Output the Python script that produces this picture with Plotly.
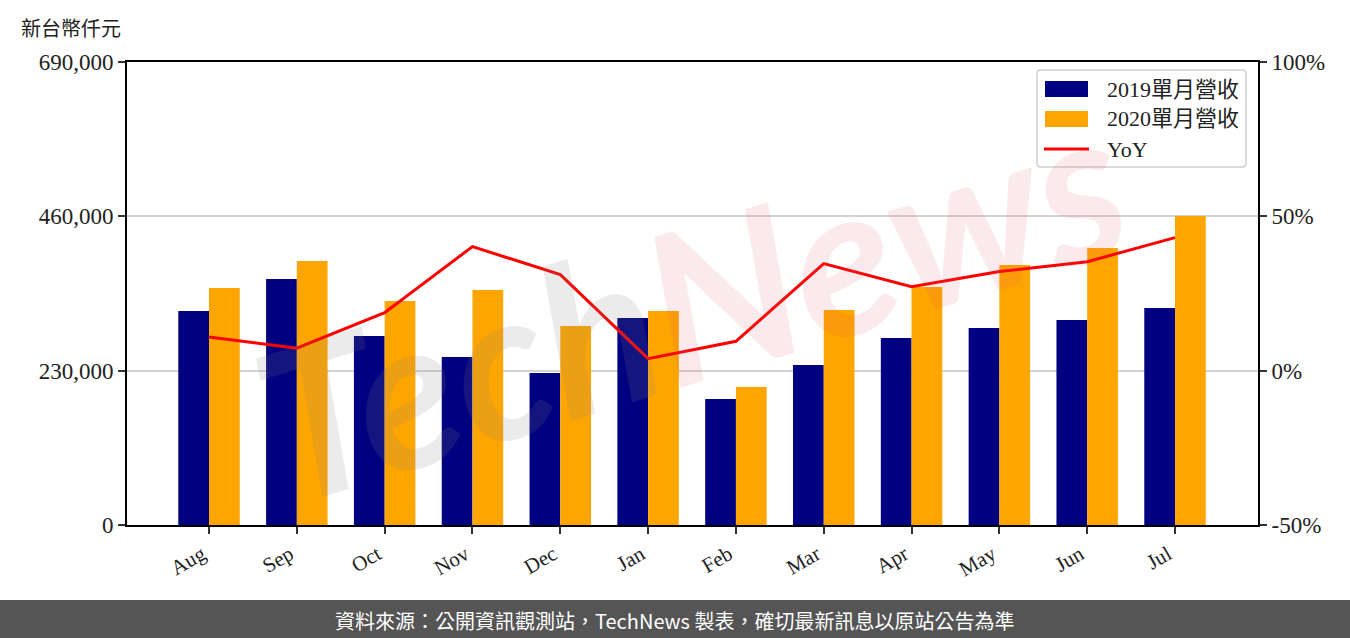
import plotly.graph_objects as go

months = ["Aug", "Sep", "Oct", "Nov", "Dec", "Jan", "Feb", "Mar", "Apr", "May", "Jun", "Jul"]
rev_2019 = [318900, 366600, 281700, 250400, 226500, 308500, 187800, 238400, 278700, 293600, 305500, 323400]
rev_2020 = [353200, 393400, 333800, 350200, 296600, 318900, 205700, 320400, 354700, 387500, 412800, 460500]
yoy_pct = [10.9, 7.3, 18.8, 40.2, 31.1, 3.9, 9.5, 34.7, 27.2, 32.1, 35.3, 43.1]

left_ticks = [0, 230000, 460000, 690000]
left_labels = ["0", "230,000", "460,000", "690,000"]
right_ticks = [-50, 0, 50, 100]
right_labels = ["-50%", "0%", "50%", "100%"]

names = ["2019單月營收", "2020單月營收", "YoY"]
colors = ["#000080", "#FFA500", "#FF0000"]

SERIF = "Liberation Serif, DejaVu Serif, Noto Sans CJK TC, serif"
CJK = "Noto Sans CJK TC, sans-serif"

# plot area in pixels
L, R, T, B = 127, 1258, 62, 525
def X(px):
    return (px - L) / (R - L)
def Y(py):
    return (B - py) / (B - T)

fig = go.Figure()
fig.add_trace(go.Bar(x=months, y=rev_2019, name=names[0], marker_color=colors[0],
                     width=0.35, offset=-0.35, marker_line_width=0, showlegend=False))
fig.add_trace(go.Bar(x=months, y=rev_2020, name=names[1], marker_color=colors[1],
                     width=0.35, offset=0.0, marker_line_width=0, showlegend=False))
fig.add_trace(go.Scatter(x=months, y=yoy_pct, name=names[2], mode="lines",
                         line=dict(color=colors[2], width=3), yaxis="y2", showlegend=False))

fig.update_layout(
    width=1350, height=638,
    margin=dict(l=L, r=1350 - R, t=T, b=638 - B),
    paper_bgcolor="white", plot_bgcolor="white",
    barmode="overlay",
    font=dict(family=SERIF, size=20, color="#000"),
    showlegend=False,
    xaxis=dict(range=[-0.934, 11.945], showline=True, linecolor="black", linewidth=2,
               mirror=True, ticks="outside", ticklen=7, tickwidth=2, tickcolor="#333",
               tickangle=-30, ticklabelshift=-7,
               tickfont=dict(family=SERIF, size=21, color="#222"), showgrid=False),
    yaxis=dict(range=[0, 690000], tickvals=left_ticks, ticktext=left_labels,
               showline=True, linecolor="black", linewidth=2, ticks="outside",
               ticklen=7, tickwidth=2, tickcolor="#333", showgrid=True,
               gridcolor="#d3d3d3", gridwidth=2, zeroline=False,
               tickfont=dict(family=SERIF, size=23, color="#222")),
    yaxis2=dict(range=[-50, 100], tickvals=right_ticks, ticktext=right_labels,
                overlaying="y", side="right", showline=True, linecolor="black",
                linewidth=2, ticks="outside", ticklen=7, tickwidth=2, tickcolor="#333",
                showgrid=False, zeroline=False, tickfont=dict(family=SERIF, size=23, color="#222")),
)

# legend box (rounded)
x0, x1, y0, y1, r = 1037, 1246, 70, 167, 4
def pt(px, py):
    return f"{X(px):.5f},{Y(py):.5f}"
path = (f"M {pt(x0 + r, y0)} L {pt(x1 - r, y0)} Q {pt(x1, y0)} {pt(x1, y0 + r)} "
        f"L {pt(x1, y1 - r)} Q {pt(x1, y1)} {pt(x1 - r, y1)} L {pt(x0 + r, y1)} "
        f"Q {pt(x0, y1)} {pt(x0, y1 - r)} L {pt(x0, y0 + r)} Q {pt(x0, y0)} {pt(x0 + r, y0)} Z")
fig.add_shape(type="path", path=path, xref="paper", yref="paper",
              fillcolor="rgba(255,255,255,0.8)", line=dict(color="#cfcfcf", width=1.5),
              layer="above")
row_y = [89, 119, 149]
for i in range(2):
    fig.add_shape(type="rect", xref="paper", yref="paper",
                  x0=X(1045), x1=X(1088), y0=Y(row_y[i] + 8), y1=Y(row_y[i] - 8),
                  fillcolor=colors[i], line_width=0, layer="above")
fig.add_shape(type="line", xref="paper", yref="paper", x0=X(1044), x1=X(1089),
              y0=Y(row_y[2]), y1=Y(row_y[2]), line=dict(color=colors[2], width=3), layer="above")
for i in range(3):
    fig.add_annotation(text=names[i], xref="paper", yref="paper", x=X(1105), y=Y(row_y[i]),
                       xanchor="left", yanchor="middle", showarrow=False,
                       font=dict(family=SERIF, size=22, color="#222"))

# footer band
fig.add_shape(type="rect", xref="paper", yref="paper", x0=-0.2, x1=1.2,
              y0=Y(640), y1=Y(600), fillcolor="#555555", line_width=0, layer="below")

fig.add_annotation(text="資料來源：公開資訊觀測站，TechNews 製表，確切最新訊息以原站公告為準",
                   xref="paper", yref="paper", x=X(674), y=Y(620),
                   xanchor="center", yanchor="middle", showarrow=False,
                   font=dict(family=CJK, size=20, color="white"))

fig.add_annotation(text="新台幣仟元", xref="paper", yref="paper",
                   x=X(19), y=Y(27), xanchor="left", yanchor="middle",
                   showarrow=False, font=dict(family=CJK, size=20, color="#222"))

# watermark
fig.add_annotation(text="<span style='color:rgba(128,128,128,0.16)'>Tech</span>"
                        "<span style='color:rgba(215,80,95,0.12)'>News</span>",
                   xref="paper", yref="paper", x=X(690), y=Y(300), showarrow=False,
                   textangle=-17, xanchor="center", yanchor="middle",
                   font=dict(family="Lato, sans-serif", size=210, style="italic", weight="bold"))

fig.write_html("out.html", post_script="document.body.style.margin='0px';",
               config={"displayModeBar": False})
